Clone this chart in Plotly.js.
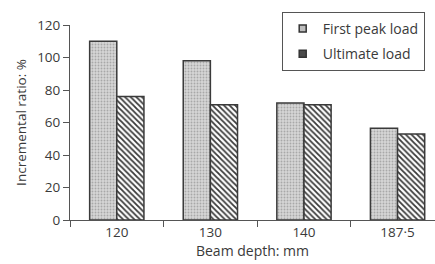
<!DOCTYPE html>
<html>
<head>
<meta charset="utf-8">
<script src="https://cdn.plot.ly/plotly-3.0.1.min.js"></script>
<style>html,body{margin:0;padding:0;background:#fff;}#chart{width:435px;height:264px;}</style>
</head>
<body>
<div id="chart"></div>
<script>
var categories = ["120", "130", "140", "187·5"];
var firstPeakLoad = [110, 98, 72, 56.5];
var ultimateLoad = [76, 71, 71, 53];
var yTicks = [0, 20, 40, 60, 80, 100, 120];
var seriesNames = ["First peak load", "Ultimate load"];

var traces = [
  {
    type: "bar", name: seriesNames[0], x: categories, y: firstPeakLoad, showlegend: false,
    marker: {
      color: "#d2d2d2",
      line: {color: "#3a3a3a", width: 1.5},
      pattern: {shape: ".", bgcolor: "#d6d6d6", fgcolor: "#a8a8a8", size: 3, solidity: 0.3}
    }
  },
  {
    type: "bar", name: seriesNames[1], x: categories, y: ultimateLoad, showlegend: false,
    marker: {
      color: "#ffffff",
      line: {color: "#3a3a3a", width: 1.5},
      pattern: {shape: "\\", bgcolor: "#ffffff", fgcolor: "#3a3a3a", size: 4, solidity: 0.45}
    }
  },
  {
    type: "scatter", mode: "markers", name: seriesNames[0], x: [categories[0]], y: [null],
    legendgroup: "a",
    marker: {symbol: "square", size: 7, color: "#bdbdbd", line: {color: "#333", width: 1.5}}
  },
  {
    type: "scatter", mode: "markers", name: seriesNames[1], x: [categories[0]], y: [null],
    legendgroup: "b",
    marker: {symbol: "square", size: 7, color: "#4a4a4a", line: {color: "#333", width: 1.5}}
  }
];

var layout = {
  width: 435, height: 264,
  margin: {l: 70, r: 0, t: 25, b: 44},
  paper_bgcolor: "#fff", plot_bgcolor: "#fff",
  font: {family: "Open Sans, sans-serif", size: 13.5, color: "#3a3a3a"},
  barmode: "group", bargap: 0.42, bargroupgap: 0,
  showlegend: true,
  legend: {
    x: 0.58, y: 1.067, xanchor: "left", yanchor: "top",
    bordercolor: "#555", borderwidth: 1, bgcolor: "#fff",
    font: {size: 14, color: "#3a3a3a"},
    traceorder: "grouped", tracegroupgap: 4
  },
  xaxis: {
    type: "category", range: [-0.5, 3.4],
    tickson: "boundaries", ticks: "outside", ticklen: 6, tickcolor: "#555",
    showline: true, linecolor: "#555", linewidth: 1,
    showgrid: false, zeroline: false,
    tickfont: {size: 13.5, color: "#3a3a3a"},
    title: {text: "Beam depth: mm", font: {size: 14, color: "#3a3a3a"}, standoff: 1}
  },
  yaxis: {
    range: [0, 120], tickvals: yTicks, ticktext: yTicks.map(String),
    ticks: "outside", ticklen: 6, tickcolor: "#555",
    showline: true, linecolor: "#555", linewidth: 1,
    showgrid: false, zeroline: false,
    tickfont: {size: 13.5, color: "#3a3a3a"},
    title: {text: "Incremental ratio: %", font: {size: 13.5, color: "#3a3a3a"}, standoff: 7}
  }
};

Plotly.newPlot("chart", traces, layout, {displayModeBar: false, staticPlot: true});
</script>
</body>
</html>
